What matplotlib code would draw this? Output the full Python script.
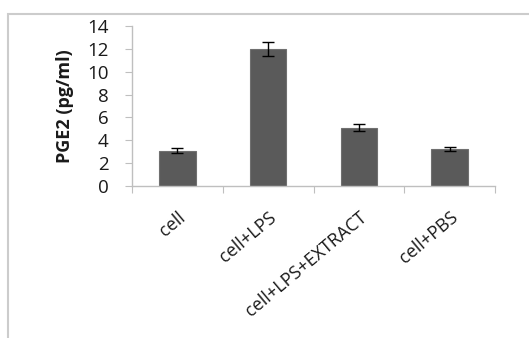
import matplotlib
matplotlib.use("Agg")
import matplotlib.pyplot as plt
from matplotlib.patches import Rectangle

plt.rcParams["font.family"] = ["Open Sans", "DejaVu Sans"]

categories = ["cell", "cell+LPS", "cell+LPS+EXTRACT", "cell+PBS"]
values = [3.1, 12.0, 5.1, 3.25]
errors = [0.25, 0.6, 0.3, 0.15]

AXIS = "#bfbfbf"
BAR = "#5a5a5a"
TXT = "#1a1a1a"

fig = plt.figure(figsize=(5.29, 3.38), dpi=100)

# outer chart frame (Excel chart area border)
fig.patches.append(Rectangle((8 / 529, -0.01), 1.0, 1 - 14 / 338 + 0.01,
                             transform=fig.transFigure, fill=False,
                             edgecolor="#cccccc", lw=1.5))

ax = fig.add_axes([132 / 529, 1 - 186 / 338, (495 - 132) / 529, (186 - 26) / 338])

x = list(range(len(categories)))
ax.bar(x, values, width=0.4, color=BAR, edgecolor="#707070", lw=0.8,
       yerr=errors, capsize=4,
       error_kw=dict(ecolor="black", elinewidth=1.0, capthick=1.0))

ax.set_xlim(-0.5, len(categories) - 0.5)
ax.set_ylim(0, 14)
ax.set_yticks(range(0, 15, 2))
ax.set_xticks([i - 0.5 for i in range(len(categories) + 1)], minor=False)
ax.set_xticklabels([])
ax.set_xticks(x, minor=True)
ax.set_xticklabels(categories, minor=True, rotation=40, ha="right",
                   rotation_mode="anchor", fontsize=13, color=TXT)
ax.tick_params(axis="x", which="minor", length=0, pad=16)
ax.tick_params(axis="x", which="major", length=5, color=AXIS, direction="out")
ax.tick_params(axis="y", length=5, color=AXIS, pad=12, labelsize=13.5,
               labelcolor=TXT)

for s in ["top", "right"]:
    ax.spines[s].set_visible(False)
for s in ["left", "bottom"]:
    ax.spines[s].set_color(AXIS)
    ax.spines[s].set_linewidth(1.0)

ax.set_ylabel("PGE2 (pg/ml)", fontsize=13, fontweight="bold", color=TXT,
              labelpad=9)

fig.savefig("out.png", dpi=100)
